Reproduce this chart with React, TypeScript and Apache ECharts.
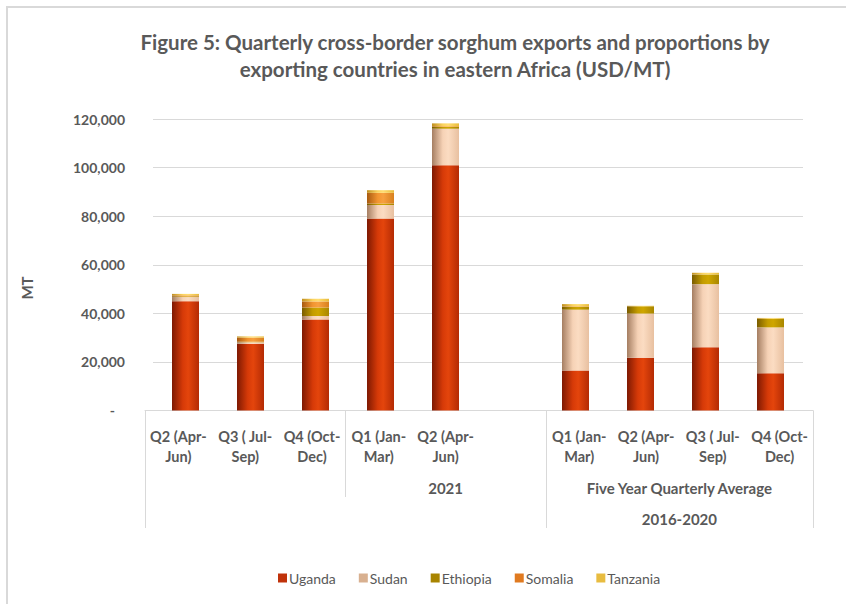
import React, { useEffect, useRef } from "react";
import * as echarts from "echarts";

const categories = [
  "Q2 (Apr-\nJun)",
  "Q3 ( Jul-\nSep)",
  "Q4 (Oct-\nDec)",
  "Q1 (Jan-\nMar)",
  "Q2 (Apr-\nJun)",
  "",
  "Q1 (Jan-\nMar)",
  "Q2 (Apr-\nJun)",
  "Q3 ( Jul-\nSep)",
  "Q4 (Oct-\nDec)",
];

const uganda = [45000, 27500, 37500, 79000, 101000, null, 16500, 21700, 26000, 15300];
const sudan = [1700, 600, 1400, 5600, 15000, null, 25000, 18200, 26000, 18900];
const ethiopia = [300, 200, 3500, 600, 700, null, 1200, 3000, 4000, 3600];
const somalia = [400, 1700, 2500, 4400, 300, null, 200, 0, 0, 0];
const tanzania = [600, 500, 1100, 1100, 1200, null, 900, 200, 700, 300];

const seriesNames = ["Uganda", "Sudan", "Ethiopia", "Somalia", "Tanzania"];

// level-2 and level-3 category groups (start index inclusive, end exclusive)
const level2Groups = [
  { label: "", start: 0, end: 3 },
  { label: "2021", start: 3, end: 6 },
  { label: "Five Year Quarterly Average", start: 6, end: 10 },
];
const level3Groups = [
  { label: "", start: 0, end: 6 },
  { label: "2016-2020", start: 6, end: 10 },
];

const yTicks = { min: 0, max: 120000, interval: 20000 };

const grad = (stops: string[]) =>
  new echarts.graphic.LinearGradient(0, 0, 1, 0, [
    { offset: 0, color: stops[0] },
    { offset: 0.4, color: stops[1] },
    { offset: 0.6, color: stops[2] },
    { offset: 1, color: stops[3] },
  ]);

const colors = [
  ["#7e1902", "#d63a08", "#e4450c", "#b42b04"],
  ["#a57e62", "#f6d2b6", "#fbdcc2", "#e8c0a0"],
  ["#7a5c00", "#c49c00", "#cfa600", "#a98600"],
  ["#a85a10", "#f29530", "#f7a040", "#d8801e"],
  ["#c09020", "#fbd35e", "#ffdd70", "#e8bb3a"],
];
const legendColors = ["#c0320a", "#d8b090", "#a88400", "#e07a20", "#e8bc40"];

const FONT = "Lato, 'Open Sans', sans-serif";
const TEXT = "#595959";

export default function App() {
  const ref = useRef<HTMLDivElement>(null);
  useEffect(() => {
    if (!ref.current) return;
    const chart = echarts.init(ref.current, null, { renderer: "svg" });
    const data = [uganda, sudan, ethiopia, somalia, tanzania];
    const axisBottom = 604 - 410.5;
    const option: any = {
      animation: false,
      backgroundColor: "#ffffff",
      textStyle: { fontFamily: FONT },
      title: {
        text: "Figure 5: Quarterly cross-border sorghum exports and proportions by\nexporting countries in eastern Africa (USD/MT)",
        left: 450,
        top: 23,
        textAlign: "center",
        textStyle: {
          fontFamily: FONT,
          fontSize: 20.5,
          fontWeight: "bold",
          color: TEXT,
          lineHeight: 27,
        },
      },
      legend: {
        left: 273,
        top: 566,
        icon: "rect",
        itemWidth: 9,
        itemHeight: 9,
        itemGap: 23,
        textStyle: { fontFamily: FONT, fontSize: 14, color: TEXT, padding: [0, 0, 0, -3] },
        data: seriesNames.map((n, i) => ({ name: n, itemStyle: { color: legendColors[i] } })),
      },
      grid: [
        // back plane (bars and gridlines)
        { left: 153, right: 846 - 803, top: 119, bottom: axisBottom },
        // front edge (floor, category labels)
        { left: 145, right: 846 - 813, top: 119, bottom: axisBottom },
      ],
      xAxis: [
        {
          type: "category",
          gridIndex: 0,
          data: categories,
          axisLine: { show: false },
          axisTick: { show: false },
          axisLabel: { show: false },
        },
        {
          type: "category",
          gridIndex: 1,
          data: categories,
          axisLine: { lineStyle: { color: "#d9d9d9", width: 1 } },
          axisTick: { show: false },
          axisLabel: {
            interval: 0,
            fontFamily: FONT,
            fontSize: 14.5,
            fontWeight: "bold",
            color: TEXT,
            lineHeight: 20,
            margin: 16,
          },
        },
      ],
      yAxis: [
        {
          type: "value",
          gridIndex: 0,
          min: yTicks.min,
          max: yTicks.max,
          interval: yTicks.interval,
          axisLine: { show: false },
          axisTick: { show: false },
          splitLine: { lineStyle: { color: "#d9d9d9", width: 1 } },
          axisLabel: {
            margin: 28,
            fontFamily: FONT,
            fontSize: 14,
            fontWeight: "bold",
            color: TEXT,
            formatter: (v: number) => (v === 0 ? "{d|-}" : v.toLocaleString("en-US")),
            rich: {
              d: { fontFamily: FONT, fontSize: 14, fontWeight: "bold", color: TEXT, padding: [0, 10, 0, 0] },
            },
          },
        },
        {
          type: "value",
          gridIndex: 1,
          min: yTicks.min,
          max: yTicks.max,
          interval: yTicks.interval,
          show: false,
          splitLine: { show: false },
        },
      ],
      series: seriesNames.map((name, i) => ({
        name,
        type: "bar",
        stack: "total",
        barWidth: 27,
        xAxisIndex: 0,
        yAxisIndex: 0,
        data: data[i],
        itemStyle: { color: grad(colors[i]) },
      })),
    };
    chart.setOption(option);

    const c0 = chart.convertToPixel({ xAxisIndex: 1 }, 0) as number;
    const c1 = chart.convertToPixel({ xAxisIndex: 1 }, 1) as number;
    const band = c1 - c0;
    const bx = (k: number) => c0 + (k - 0.5) * band;
    const axisY = chart.convertToPixel({ yAxisIndex: 1 }, 0) as number;

    const graphics: any[] = [];
    // outer border
    graphics.push({
      type: "rect",
      shape: { x: 7, y: 7, width: 900, height: 700 },
      style: { fill: "none", stroke: "#d9d9d9", lineWidth: 2 },
      silent: true,
    });
    // separators
    const l3Bounds = new Set<number>();
    level3Groups.forEach((g) => {
      l3Bounds.add(g.start);
      l3Bounds.add(g.end);
    });
    const l2Bounds = new Set<number>();
    level2Groups.forEach((g) => {
      l2Bounds.add(g.start);
      l2Bounds.add(g.end);
    });
    l2Bounds.forEach((k) => {
      const x = Math.round(bx(k)) + 0.5;
      const yEnd = l3Bounds.has(k) ? 528 : 497;
      graphics.push({
        type: "line",
        shape: { x1: x, y1: axisY, x2: x, y2: yEnd },
        style: { stroke: "#d9d9d9", lineWidth: 1 },
        silent: true,
      });
    });
    const groupText = (label: string, x: number, y: number) => ({
      type: "text",
      x,
      y,
      style: {
        text: label,
        fontFamily: FONT,
        fontSize: 15,
        fontWeight: "bold",
        fill: TEXT,
        align: "center",
        verticalAlign: "middle",
      },
    });
    level2Groups.forEach((g) => {
      if (!g.label) return;
      graphics.push(groupText(g.label, (bx(g.start) + bx(g.end)) / 2, 488));
    });
    level3Groups.forEach((g) => {
      if (!g.label) return;
      graphics.push(groupText(g.label, (bx(g.start) + bx(g.end)) / 2, 519));
    });
    graphics.push({
      type: "text",
      x: 27,
      y: 288,
      rotation: Math.PI / 2,
      style: {
        text: "MT",
        fontFamily: FONT,
        fontSize: 15,
        fontWeight: "bold",
        fill: TEXT,
        align: "center",
        verticalAlign: "middle",
      },
    });
    chart.setOption({ graphic: graphics });

    return () => chart.dispose();
  }, []);
  return (
    <div
      ref={ref}
      style={{ position: "fixed", left: 0, top: 0, width: 846, height: 604 }}
    />
  );
}
